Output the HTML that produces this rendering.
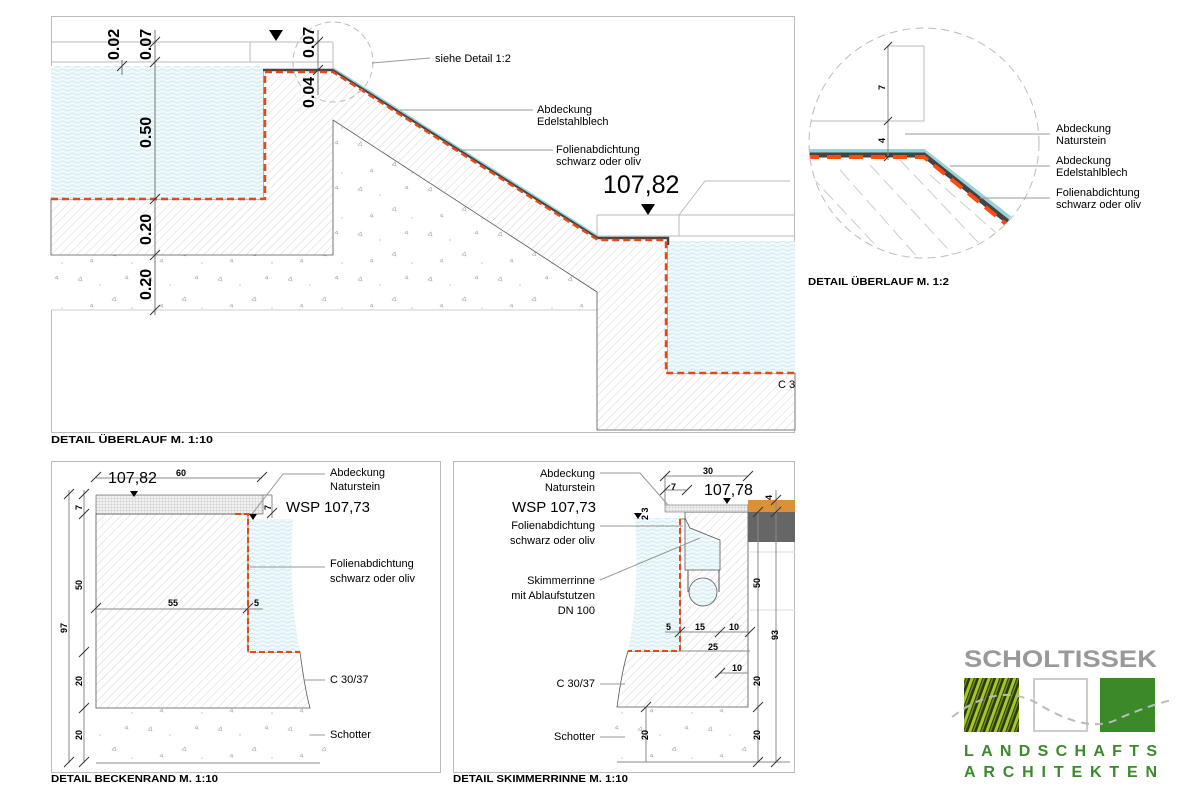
<!DOCTYPE html>
<html><head><meta charset="utf-8"><style>
html,body{margin:0;padding:0;background:#fff;}
svg{display:block;font-family:"Liberation Sans",Arial,sans-serif;}
</style></head><body>
<svg width="1200" height="800" viewBox="0 0 1200 800" xmlns="http://www.w3.org/2000/svg">
<defs>
<pattern id="hatch" width="6" height="6" patternUnits="userSpaceOnUse" patternTransform="rotate(45)">
<rect width="6" height="6" fill="#fff"/><line x1="0" y1="0" x2="0" y2="6" stroke="#c4c4c4" stroke-width="0.7"/></pattern>
<pattern id="water" width="10" height="4" patternUnits="userSpaceOnUse">
<rect width="10" height="4" fill="#f0f9fb"/><path d="M0 2 Q2.5 0 5 2 T10 2" fill="none" stroke="#a8d8e1" stroke-width="0.5"/></pattern>
<pattern id="gravel" width="70" height="45" patternUnits="userSpaceOnUse">
<rect width="70" height="45" fill="#fff"/><path d="M8 10l3-3 1 4z M42 30l3-3 1 4z M55 8l2-2 1 3z M20 36l2-2 1 3z" fill="none" stroke="#aaa" stroke-width="0.6"/><circle cx="30" cy="15" r="0.6" fill="#aaa"/><circle cx="62" cy="38" r="0.6" fill="#aaa"/></pattern>
<pattern id="grid" width="3" height="3" patternUnits="userSpaceOnUse">
<rect width="3" height="3" fill="#f2f2f2"/><path d="M0 0H3M0 0V3" stroke="#aaa" stroke-width="0.5"/></pattern>
<pattern id="grass" width="8" height="20" patternUnits="userSpaceOnUse" patternTransform="rotate(20)">
<rect width="8" height="20" fill="#2c3a10"/><rect width="3" height="20" fill="#a6c72a"/><rect x="4" width="1.5" height="20" fill="#6e8f1c"/></pattern>
</defs>

<!-- ============ MAIN PANEL ============ -->
<rect x="51.5" y="16.5" width="743" height="416" fill="none" stroke="#bbb"/>
<polygon points="51,255 333,255 333,120 597,292 597,310 51,310" fill="url(#gravel)"/>
<line x1="51" y1="310" x2="597" y2="310" stroke="#ccc"/>
<polygon points="51,199 263,199 263,70 333,70 598,238 668,238 668,373 795,373 795,430 597,430 597,292 333,120 333,255 51,255" fill="url(#hatch)" stroke="#555" stroke-width="0.8"/>
<rect x="51" y="66" width="212" height="133" fill="url(#water)"/>
<rect x="668" y="241" width="127" height="132" fill="url(#water)"/>
<path d="M51 42H333M51 62H333M250 42V62M333 42V70" stroke="#bbb" fill="none"/>
<path d="M597 215H795M597 236H795M597 215V238M679 215V236M679 215L705 181H790" stroke="#bbb" fill="none"/>
<path d="M263 70H333L598 238H668V245" stroke="#444" stroke-width="2.5" fill="none"/>
<path d="M51 199H265V72H333L598 240H666V373H795" stroke="#e24a1a" stroke-width="2.5" stroke-dasharray="7 4" fill="none"/>
<path d="M333 68L598 236" stroke="#9ad2dc" stroke-width="1.5"/>
<circle cx="333" cy="62" r="40" fill="none" stroke="#bbb" stroke-dasharray="6 4"/>
<path d="M155 30V315M318 30V95M122 60V75" stroke="#777" fill="none"/>
<g stroke="#333"><path d="M150 47l10-10M150 67l10-10M150 204l10-10M150 260l10-10M150 315l10-10M313 47l10-10M313 75l10-10M117 71l10-10"/></g>
<g font-weight="bold" font-size="16" fill="#000">
<text transform="translate(119,60) rotate(-90)">0.02</text>
<text transform="translate(151,60) rotate(-90)">0.07</text>
<text transform="translate(151,148) rotate(-90)">0.50</text>
<text transform="translate(151,245) rotate(-90)">0.20</text>
<text transform="translate(151,300) rotate(-90)">0.20</text>
<text transform="translate(314,58) rotate(-90)">0.07</text>
<text transform="translate(314,108) rotate(-90)">0.04</text>
</g>
<path d="M269 30h14l-7 11z M641 204h14l-7 11z" fill="#000"/>
<text x="603" y="193" font-size="25">107,82</text>
<g font-size="11" fill="#000">
<path d="M372 63L430 58M400 110H533M460 150H553" stroke="#999" fill="none"/>
<text x="435" y="62">siehe Detail 1:2</text>
<text x="537" y="113">Abdeckung</text><text x="537" y="125">Edelstahlblech</text>
<text x="556" y="153">Folienabdichtung</text><text x="556" y="165">schwarz oder oliv</text>
<text x="778" y="388">C 3</text>
</g>
<text x="51" y="443" font-size="10.5" font-weight="bold" textLength="162" lengthAdjust="spacingAndGlyphs">DETAIL ÜBERLAUF  M. 1:10</text>

<!-- ============ DETAIL CIRCLE ============ -->
<clipPath id="cc"><circle cx="924" cy="143" r="115"/></clipPath>
<g clip-path="url(#cc)">
<g stroke="#ccc" stroke-dasharray="14 6">
<path d="M810 175L880 250M810 200L860 255M840 170L920 260M870 165L960 262M900 160L990 255M930 175L1010 245"/>
</g>
<path d="M805 121H924V46M888 46H924" stroke="#bbb" fill="none"/>
<path d="M805 151H924L1010 218" stroke="#9ad2dc" stroke-width="4" fill="none"/>
<path d="M805 155H924L1008 222" stroke="#444" stroke-width="5" fill="none"/>
<path d="M805 157H924L1006 224" stroke="#ff4a10" stroke-width="4" stroke-dasharray="14 8" fill="none"/>
</g>
<circle cx="924" cy="143" r="115" fill="none" stroke="#bbb" stroke-dasharray="8 5"/>
<path d="M888 46V160" stroke="#888"/>
<g stroke="#333"><path d="M884 50l8-8M884 125l8-8M884 161l8-8"/></g>
<text transform="translate(885,90) rotate(-90)" font-size="9" font-weight="bold">7</text>
<text transform="translate(885,143) rotate(-90)" font-size="9" font-weight="bold">4</text>
<path d="M905 134H1050M950 166H1050M980 198H1050" stroke="#999"/>
<g font-size="11"><text x="1056" y="132">Abdeckung</text><text x="1056" y="144">Naturstein</text>
<text x="1056" y="164">Abdeckung</text><text x="1056" y="176">Edelstahlblech</text>
<text x="1056" y="196">Folienabdichtung</text><text x="1056" y="208">schwarz oder oliv</text></g>
<text x="808" y="285" font-size="10.5" font-weight="bold" textLength="141" lengthAdjust="spacingAndGlyphs">DETAIL ÜBERLAUF  M. 1:2</text>

<!-- ============ BECKENRAND ============ -->
<rect x="51.5" y="461.5" width="389" height="311" fill="none" stroke="#bbb"/>
<path d="M96 708H318Q322 740 330 763H96Z" fill="url(#gravel)"/>
<path d="M96 514H248V652H300Q305 690 310 708H96Z" fill="url(#hatch)" stroke="#555" stroke-width="0.8"/>
<path d="M249 519H293Q288 590 300 652H249Z" fill="url(#water)"/>
<rect x="96" y="495" width="167" height="19" fill="url(#grid)" stroke="#555" stroke-width="0.6"/>
<path d="M235 514H248V652H300" stroke="#e24a1a" stroke-width="2" stroke-dasharray="6 3" fill="none"/>
<path d="M69 490V763M84 490V763M96 478H262M96 609H263M263 495H272M272 495V518M96 763H320" stroke="#888" fill="none"/>
<g stroke="#333"><path d="M64 499l10-10M79 499l10-10M79 519l10-10M79 657l10-10M79 713l10-10M64 767l10-10M79 767l10-10M91 482l10-10M257 482l10-10M91 613l10-10M243 613l10-10M267 518l10-10"/></g>
<g font-size="9" font-weight="bold">
<text transform="translate(82,510) rotate(-90)">7</text>
<text transform="translate(82,590) rotate(-90)">50</text>
<text transform="translate(82,686) rotate(-90)">20</text>
<text transform="translate(82,740) rotate(-90)">20</text>
<text transform="translate(67,633) rotate(-90)">97</text>
<text x="176" y="476">60</text><text x="168" y="606">55</text><text x="254" y="606">5</text>
<text transform="translate(271,510) rotate(-90)">7</text>
</g>
<text x="108" y="483" font-size="16">107,82</text>
<path d="M130 491h8l-4 6z M249 514h8l-4 6z" fill="#000"/>
<text x="286" y="512" font-size="15">WSP 107,73</text>
<path d="M252 514L283 474H325M250 567H325M305 680H325M310 735H325" stroke="#999" fill="none"/>
<g font-size="11"><text x="330" y="476">Abdeckung</text><text x="330" y="490">Naturstein</text>
<text x="330" y="567">Folienabdichtung</text><text x="330" y="582">schwarz oder oliv</text>
<text x="330" y="683">C 30/37</text><text x="330" y="738">Schotter</text></g>
<text x="51" y="782" font-size="10.5" font-weight="bold" textLength="167" lengthAdjust="spacingAndGlyphs">DETAIL BECKENRAND  M. 1:10</text>

<!-- ============ SKIMMERRINNE ============ -->
<rect x="453.5" y="461.5" width="341" height="311" fill="none" stroke="#bbb"/>
<path d="M617 707H748V762H620Q612 740 617 707Z" fill="url(#gravel)"/>
<path d="M685 512H748V707H617Q622 670 628 651H680V519H685Z" fill="url(#hatch)" stroke="#555" stroke-width="0.8"/>
<path d="M635 518H680V651H628Q640 590 635 518Z" fill="url(#water)"/>
<path d="M685 518L690 528L720 540V570H685Z" fill="url(#water)" stroke="#555" stroke-width="0.8"/>
<path d="M688 570V592M719 570V592" stroke="#555"/>
<circle cx="703" cy="592" r="14" fill="url(#water)" stroke="#555" stroke-width="0.8"/>
<rect x="665" y="505" width="83" height="7" fill="url(#grid)" stroke="#555" stroke-width="0.5"/>
<rect x="748" y="500" width="47" height="12" fill="#d9923a"/>
<rect x="748" y="512" width="47" height="30" fill="#666"/>
<path d="M748 552H795M748 610H795" stroke="#ddd"/>
<path d="M680 519V651H628" stroke="#e24a1a" stroke-width="2" stroke-dasharray="6 3" fill="none"/>
<path d="M665 476H748M665 490H687M758 512V762M776 490V762M646 707V762M665 632H750M680 651H750M720 673H748M665 476V505M617 762H790" stroke="#888" fill="none"/>
<g stroke="#333"><path d="M660 481l10-10M743 481l10-10M660 495l10-10M682 495l10-10M753 517l10-10M771 517l10-10M753 712l10-10M771 767l10-10M753 767l10-10M641 712l10-10M675 637l10-10M715 637l10-10M745 637l10-10M715 678l10-10M771 505l10-10"/></g>
<g font-size="9" font-weight="bold">
<text x="703" y="474">30</text><text x="671" y="490">7</text>
<text transform="translate(772,500) rotate(-90)">4</text>
<text transform="translate(648,520) rotate(-90)">2 3</text>
<text transform="translate(760,588) rotate(-90)">50</text>
<text transform="translate(778,640) rotate(-90)">93</text>
<text transform="translate(760,686) rotate(-90)">20</text>
<text transform="translate(760,740) rotate(-90)">20</text>
<text transform="translate(648,740) rotate(-90)">20</text>
<text x="666" y="630">5</text><text x="695" y="630">15</text><text x="729" y="630">10</text>
<text x="708" y="650">25</text><text x="732" y="671">10</text>
</g>
<text x="704" y="495" font-size="16">107,78</text>
<path d="M723 498h8l-4 6z M634 513h8l-4 6z" fill="#000"/>
<text x="596" y="512" font-size="15" text-anchor="end">WSP 107,73</text>
<path d="M600 473H640L668 505M600 526H683M600 580L700 538M600 684H625M600 737H625" stroke="#999" fill="none"/>
<g font-size="11" text-anchor="end">
<text x="595" y="477">Abdeckung</text><text x="595" y="491">Naturstein</text>
<text x="595" y="529">Folienabdichtung</text><text x="595" y="544">schwarz oder oliv</text>
<text x="595" y="584">Skimmerrinne</text><text x="595" y="599">mit Ablaufstutzen</text><text x="595" y="614">DN 100</text>
<text x="595" y="687">C 30/37</text><text x="595" y="740">Schotter</text></g>
<text x="453" y="782" font-size="10.5" font-weight="bold" textLength="175" lengthAdjust="spacingAndGlyphs">DETAIL SKIMMERRINNE  M. 1:10</text>

<!-- ============ LOGO ============ -->
<text x="964" y="667" font-size="24.5" font-weight="bold" fill="#999" textLength="193" lengthAdjust="spacingAndGlyphs">SCHOLTISSEK</text>
<rect x="964" y="678" width="55" height="54" fill="url(#grass)"/>
<rect x="1034" y="679" width="53" height="52" fill="#fff" stroke="#ccc" stroke-width="2"/>
<rect x="1100" y="678" width="55" height="54" fill="#3a8a2a"/>
<path d="M952 717Q1000 680 1040 705Q1090 735 1120 718Q1150 705 1172 700" fill="none" stroke="#bbb" stroke-width="2" stroke-dasharray="8 6"/>
<g font-size="16" font-weight="bold" fill="#3a8a2a">
<text x="964" y="756" textLength="193" lengthAdjust="spacing">LANDSCHAFTS</text>
<text x="964" y="777" textLength="193" lengthAdjust="spacing">ARCHITEKTEN</text>
</g>
</svg>
</body></html>
